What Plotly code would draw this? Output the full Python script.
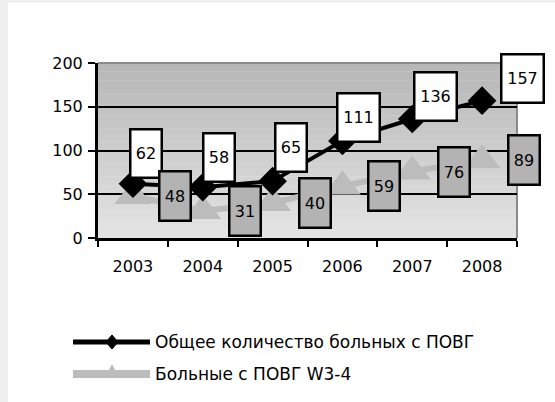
import plotly.graph_objects as go

years = ["2003", "2004", "2005", "2006", "2007", "2008"]
total_patients = [62, 58, 65, 111, 136, 157]
w34_patients = [48, 31, 40, 59, 76, 89]
y_ticks = [0, 50, 100, 150, 200]

name_total = "Общее количество больных с ПОВГ"
name_w34 = "Больные с ПОВГ W3-4"

# label offsets (px, relative to point) for the total series
lab1_dx = [13, 16, 18, 16, 23, 40]
lab1_dy = [30, 30, 34, 23, 23, 22]

W, H = 555, 402
L, R, T, B = 98, 38, 63, 164
PW, PH = W - L - R, H - T - B
FONT = "DejaVu Sans"


def px(xp):
    return (xp - L) / PW


def py(yp):
    return (H - B - yp) / PH


fig = go.Figure()

fig.add_trace(go.Scatter(
    x=years, y=w34_patients, mode="lines+markers", name=name_w34,
    line=dict(color="#bcbcbc", width=6),
    marker=dict(symbol="triangle-up", size=32, color="#bcbcbc"),
    showlegend=False, cliponaxis=False,
))
fig.add_trace(go.Scatter(
    x=years, y=total_patients, mode="lines+markers", name=name_total,
    line=dict(color="black", width=4),
    marker=dict(symbol="diamond", size=22, color="black"),
    showlegend=False, cliponaxis=False,
))

shapes = []
# page background strips
shapes.append(dict(type="rect", xref="paper", yref="paper", x0=px(8), x1=px(W + 5),
                   y0=py(H + 5), y1=py(3), fillcolor="white", line=dict(width=0), layer="below"))
# gradient plot background
N = 40
top = (0xb6, 0xb6, 0xb6)
bot = (0xe4, 0xe4, 0xe4)
for i in range(N):
    t = (i + 0.5) / N
    c = tuple(int(round(bot[k] + (top[k] - bot[k]) * t)) for k in range(3))
    shapes.append(dict(type="rect", xref="paper", yref="paper", x0=0, x1=1,
                       y0=i / N, y1=(i + 1) / N + 0.002,
                       fillcolor="rgb(%d,%d,%d)" % c, line=dict(width=0), layer="below"))
# gray plot border (top/right)
shapes.append(dict(type="path", xref="paper", yref="paper",
                   path="M 0,1 L 1,1 L 1,0", line=dict(color="#8a8a8a", width=2), layer="between"))

# manual legend
leg_x0, leg_x1, leg_xc = 73, 150, 112
row1, row2 = 342, 374
shapes.append(dict(type="line", xref="paper", yref="paper", x0=px(leg_x0), x1=px(leg_x1),
                   y0=py(row1), y1=py(row1), line=dict(color="black", width=5)))
dw, dh = 6, 7
shapes.append(dict(type="path", xref="paper", yref="paper",
                   path="M %f,%f L %f,%f L %f,%f L %f,%f Z" % (
                       px(leg_xc - dw), py(row1), px(leg_xc), py(row1 - dh),
                       px(leg_xc + dw), py(row1), px(leg_xc), py(row1 + dh)),
                   fillcolor="black", line=dict(color="black", width=1)))
shapes.append(dict(type="line", xref="paper", yref="paper", x0=px(leg_x0), x1=px(leg_x1),
                   y0=py(row2), y1=py(row2), line=dict(color="#bcbcbc", width=8)))
shapes.append(dict(type="path", xref="paper", yref="paper",
                   path="M %f,%f L %f,%f L %f,%f Z" % (
                       px(leg_xc - 3), py(row2 - 3), px(leg_xc), py(row2 - 9),
                       px(leg_xc + 3), py(row2 - 3)),
                   fillcolor="#bcbcbc", line=dict(color="#bcbcbc", width=1)))

annotations = []
for i, v in enumerate(total_patients):
    txt = str(v)
    annotations.append(dict(
        x=i, y=v, xref="x", yref="y", text=txt, showarrow=False,
        xshift=lab1_dx[i], yshift=lab1_dy[i],
        font=dict(family=FONT, size=16, color="black"),
        bgcolor="white", bordercolor="black", borderwidth=2.5, borderpad=1,
        width=27 if len(txt) < 3 else 38, height=44,
    ))
for i, v in enumerate(w34_patients):
    annotations.append(dict(
        x=i, y=v, xref="x", yref="y", text=str(v), showarrow=False,
        xshift=42, yshift=0,
        font=dict(family=FONT, size=16, color="black"),
        bgcolor="#b3b3b3", bordercolor="black", borderwidth=2.5, borderpad=1,
        width=27, height=45,
    ))
annotations.append(dict(x=px(153), y=py(row1), xref="paper", yref="paper", text=name_total,
                        showarrow=False, xanchor="left", yanchor="middle",
                        font=dict(family=FONT, size=17, color="black")))
annotations.append(dict(x=px(153), y=py(row2), xref="paper", yref="paper", text=name_w34,
                        showarrow=False, xanchor="left", yanchor="middle",
                        font=dict(family=FONT, size=17, color="black")))

fig.update_layout(
    width=W, height=H,
    margin=dict(l=L, r=R, t=T, b=B, pad=0),
    paper_bgcolor="#f0f0f0",
    plot_bgcolor="rgba(0,0,0,0)",
    showlegend=False,
    shapes=shapes,
    annotations=annotations,
    xaxis=dict(
        type="category", range=[-0.5, 5.5], tickson="boundaries",
        ticks="outside", ticklen=6, tickwidth=2, tickcolor="black",
        showline=True, linecolor="black", linewidth=3,
        showgrid=False, zeroline=False,
        tickfont=dict(family=FONT, size=16, color="black"),
        ticklabelstandoff=12,
    ),
    yaxis=dict(
        range=[0, 200], tickvals=y_ticks, ticktext=[str(t) for t in y_ticks],
        ticks="outside", ticklen=7, tickwidth=2, tickcolor="black",
        showline=True, linecolor="black", linewidth=3,
        showgrid=True, gridcolor="black", gridwidth=2, zeroline=False,
        tickfont=dict(family=FONT, size=16, color="black"),
        ticklabelstandoff=2,
    ),
)

fig.write_html("out.html", config={"displayModeBar": False},
               post_script="document.body.style.margin='0px';")
